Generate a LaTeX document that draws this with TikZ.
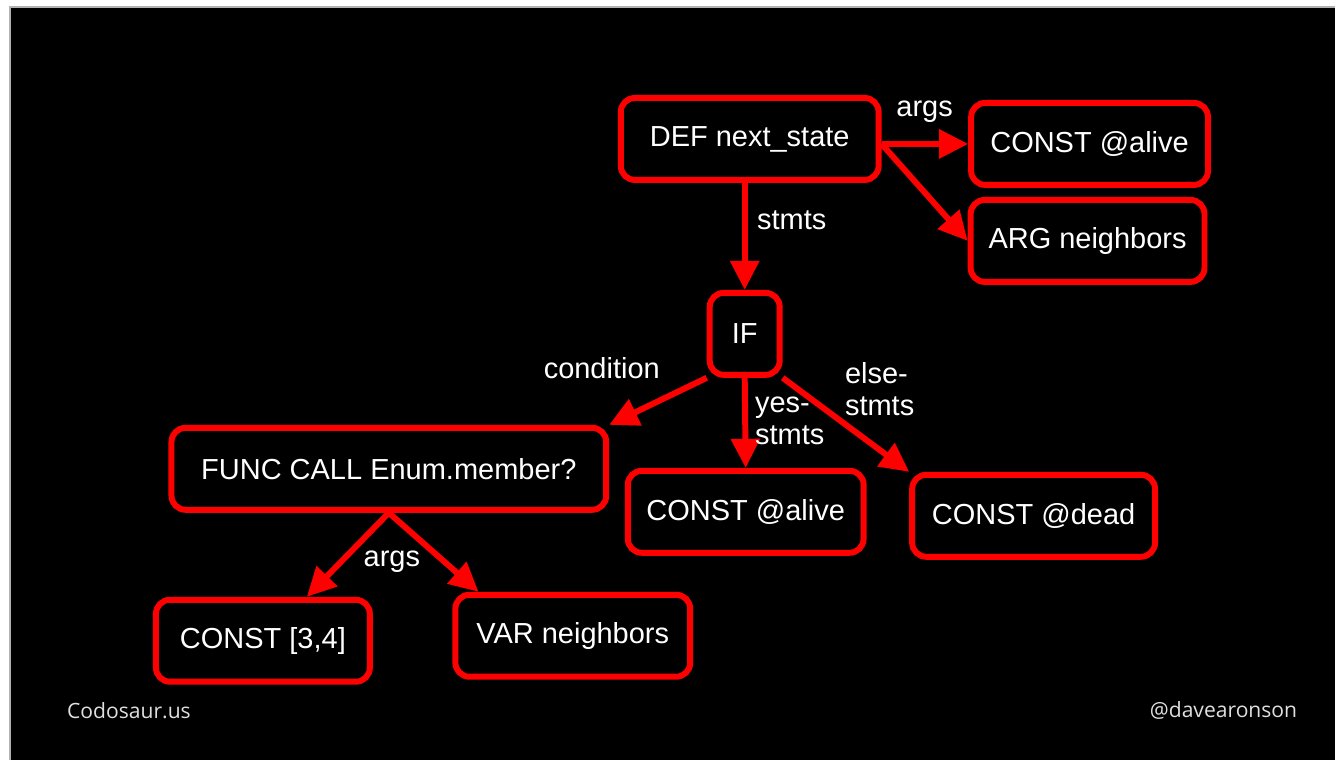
\documentclass[tikz,border=0pt]{standalone}
\usepackage{fontspec}
\setmainfont{Liberation Sans}
\newfontfamily\footfont{Open Sans}
\usepackage{tikz}
\usetikzlibrary{arrows.meta}

\begin{document}
\begin{tikzpicture}[x=0.02cm,y=-0.02cm,shorten >=0pt,
    -{Triangle[length=0.58cm,width=0.56cm]}]
            \tikzstyle{astnode}=[rectangle,draw=red,line width=3.4pt,rounded corners=8pt,
                fill=black,text=white,minimum height=1.64cm,inner sep=0pt,
                font=\fontsize{16.5}{19.8}\selectfont]
            \tikzstyle{edgelabel}=[text=white,align=left,inner sep=0pt,
                font=\fontsize{16.5}{18.2}\selectfont]
            \tikzstyle{link}=[draw=red,line width=3.4pt]

            % background and slide area
            \fill[white,-] (0,0) rectangle (1336,760);
            \fill[black,-] (10,7) rectangle (1336,760);
            \draw[gray!60,line width=0.6pt,-] (10,760) -- (10,7) -- (1336,7);

            \foreach \name/\x/\y/\w/\txt in {def/750/139/5.16/{DEF next\_state},
                    alivea/1090/144/4.74/{CONST @alive}, argn/1088/241/4.68/{ARG neighbors},
                    if/745/334/1.40/IF, func/389/469/8.70/{FUNC CALL Enum.member?},
                    aliveb/746/512/4.72/{CONST @alive}, dead/1034/516/4.86/{CONST @dead},
                    cfour/263/641/4.28/{CONST [3,4]}, var/573/636/4.70/{VAR neighbors}}
                    \node[astnode,minimum width=\w cm] (\name) at (\x,\y) {\txt};

                \coordinate (def-out) at (alivea.west -| def.east);

                \foreach \from/\to in {def-out/alivea.west, def-out/argn.west,
                        if.south west/func.north east, if.south/aliveb.north,
                        if.south east/dead.north west, func.south/cfour.45, func.south/var.155}
                    \draw[link] (\from) -- (\to);
                \draw[link] (if.north |- def.south) -- (if.north);

                % edge labels
                \node[edgelabel] (l-args) at (925,112) {args};
                \node[edgelabel] (l-stmts) at (792,220) {stmts};
                \node[edgelabel] (l-cond) at (602,368) {condition};
                \node[edgelabel] (l-yes) at (790,421) {yes-\\stmts};
                \node[edgelabel] (l-else) at (880,389) {else-\\stmts};
                \node[edgelabel] (l-fargs) at (392,562) {args};

                % footer
                \node[text=gray!25,font=\footfont\fontsize{12}{14}\selectfont] (site) at (129,711) {Codosaur.us};
                \node[text=gray!25,font=\footfont\fontsize{12}{14}\selectfont] (handle) at (1224,711) {@davearonson};
        \end{tikzpicture}
\end{document}
